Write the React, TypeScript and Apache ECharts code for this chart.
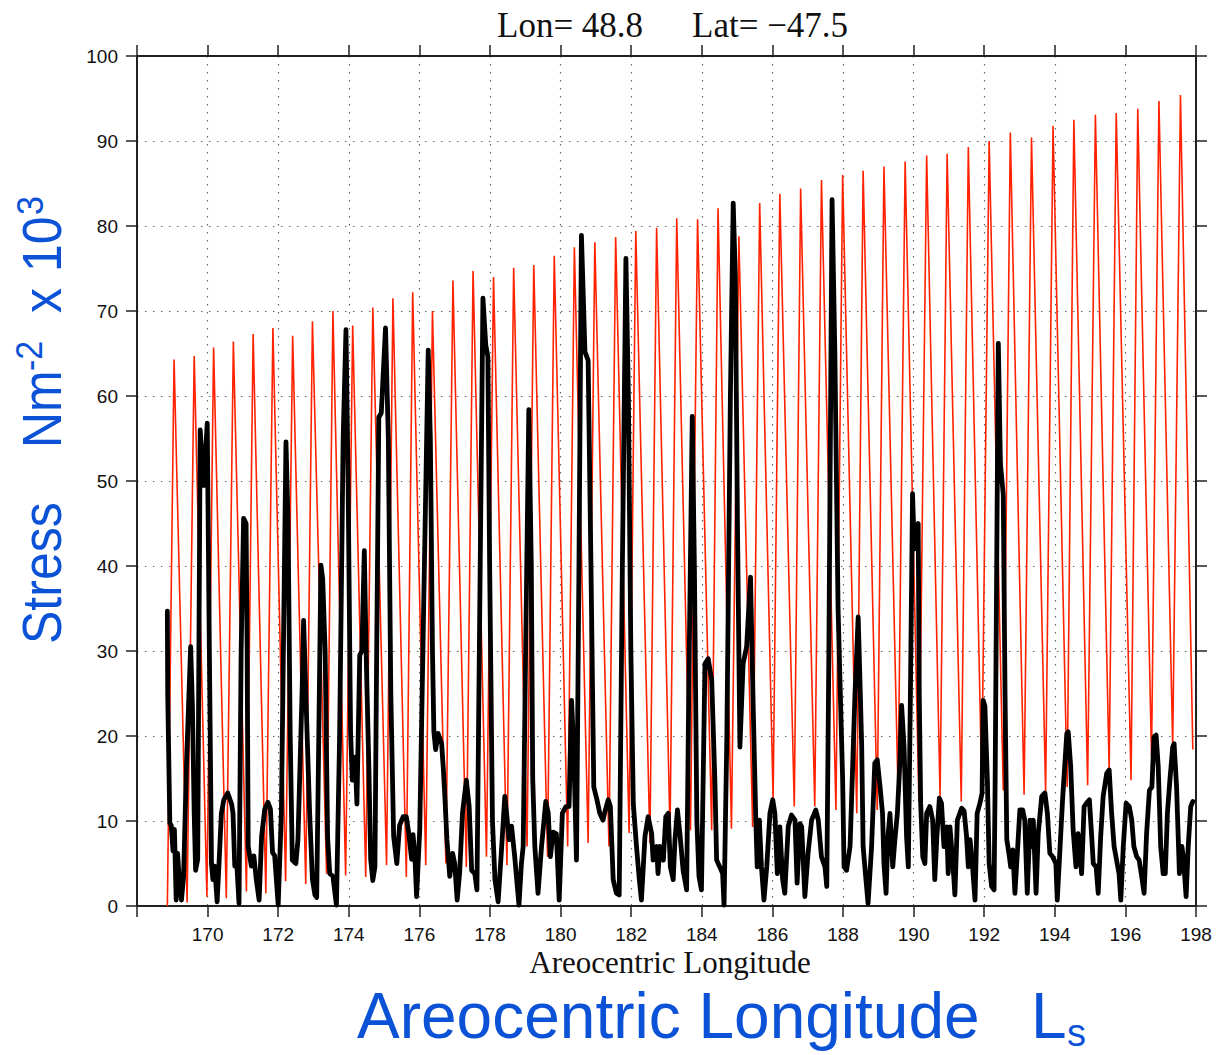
import React, { useEffect, useRef } from "react";
import * as echarts from "echarts";

// ---- axis ticks ----
const xMin = 168;
const xMax = 198;
const xStep = 2;
const yMin = 0;
const yMax = 100;
const yStep = 10;

// ---- red series (potential stress): start point, peaks and troughs ----
const redStart: [number, number] = [168.86, 0];
const redPeakLs = [
  169.05, 169.62, 170.17, 170.73, 171.29, 171.85, 172.41, 172.97, 173.55, 174.11,
  174.68, 175.25, 175.81, 176.37, 176.95, 177.52, 178.10, 178.67, 179.24, 179.82,
  180.39, 180.97, 181.56, 182.13, 182.72, 183.29, 183.88, 184.46, 185.05, 185.64,
  186.21, 186.80, 187.39, 187.99, 188.57, 189.16, 189.76, 190.37, 190.95, 191.55,
  192.14, 192.74, 193.34, 193.95, 194.54, 195.15, 195.74, 196.35, 196.95, 197.56,
];
const redPeakVal = [
  64.3, 64.7, 65.7, 66.4, 67.3, 68.0, 67.1, 68.8, 70.0, 68.3,
  70.4, 71.5, 72.2, 70.0, 73.6, 74.7, 74.0, 75.1, 75.4, 76.5,
  77.5, 78.1, 78.7, 79.4, 79.8, 80.9, 80.8, 82.1, 78.8, 82.7,
  83.8, 84.4, 85.4, 86.0, 86.5, 87.0, 87.6, 88.3, 88.5, 89.3,
  90.0, 91.0, 90.4, 91.8, 92.5, 93.1, 93.3, 93.8, 94.7, 95.4,
];
const redTroughLs = [
  169.42, 169.98, 170.53, 171.10, 171.65, 172.21, 172.78, 173.37, 173.91, 174.48,
  175.07, 175.63, 176.18, 176.75, 177.33, 177.90, 178.48, 179.05, 179.63, 180.20,
  180.78, 181.37, 181.94, 182.53, 183.10, 183.68, 184.28, 184.84, 185.44, 186.02,
  186.62, 187.20, 187.80, 188.39, 188.97, 189.56, 190.15, 190.75, 191.35, 191.93,
  192.54, 193.13, 193.74, 194.35, 194.93, 195.54, 196.16, 196.74, 197.34, 197.91,
];
const redTroughVal = [
  0.4, 1.1, 0.9, 1.7, 1.5, 2.9, 2.6, 3.8, 3.6, 3.4,
  4.8, 3.4, 4.8, 5.0, 4.6, 5.8, 4.8, 7.0, 5.8, 7.0,
  7.4, 7.0, 8.6, 7.4, 8.6, 8.9, 8.9, 9.1, 9.3, 12.7,
  11.7, 11.7, 11.3, 10.9, 11.3, 13.4, 12.3, 12.9, 12.3, 14.2,
  13.6, 13.1, 13.4, 14.0, 14.2, 16.0, 14.8, 17.6, 18.9, 18.4,
];

// ---- black series (actual stress), traced [Ls, value] ----
const blackTrace: [number, number][] = [
  [168.86,34.7],[168.87,25.0],[168.93,9.7],[168.97,9.5],[169.02,6.5],[169.06,9.0],[169.11,0.7],[169.15,6.2],[169.20,3.0],[169.26,0.7],
  [169.32,3.5],[169.40,16.4],[169.46,23.5],[169.52,30.5],[169.57,23.5],[169.62,10.9],[169.66,4.2],[169.72,5.5],[169.79,56.0],[169.89,49.5],
  [169.99,56.8],[170.05,30],[170.11,5.0],[170.15,3.1],[170.20,4.7],[170.27,0.5],[170.32,4.7],[170.39,10.9],[170.46,12.5],[170.57,13.3],
  [170.68,12.0],[170.72,10.9],[170.77,4.7],[170.83,4.7],[170.89,0.3],[170.95,30],[171.02,45.6],[171.09,45.0],[171.12,30],[171.15,7.0],
  [171.24,4.7],[171.31,5.9],[171.38,3.1],[171.46,0.7],[171.53,8.2],[171.62,11.4],[171.71,12.2],[171.78,11.4],[171.84,6.3],[171.90,5.9],
  [172.00,0.1],[172.09,11],[172.22,54.6],[172.28,45],[172.34,20],[172.40,5.4],[172.50,5.0],[172.56,7.8],[172.68,25.7],[172.72,33.6],
  [172.80,22.7],[172.89,11.0],[172.97,3.1],[173.04,1.3],[173.09,1.0],[173.15,20],[173.21,40.1],[173.26,38.5],[173.33,30],[173.40,8.0],
  [173.46,3.8],[173.55,3.5],[173.65,0.1],[173.74,20],[173.84,55],[173.92,67.8],[173.98,50],[174.05,20.5],[174.10,14.8],[174.18,17.5],
  [174.23,12],[174.31,29.5],[174.37,30],[174.44,41.8],[174.49,30],[174.57,16],[174.62,5.5],[174.68,3.0],[174.74,4.6],[174.79,30],
  [174.85,57.5],[174.92,58.0],[175.04,68.0],[175.12,55],[175.19,25],[175.27,8.2],[175.36,5.0],[175.44,9.5],[175.54,10.5],[175.63,10.5],
  [175.70,8.5],[175.78,5.5],[175.82,8.4],[175.87,6.0],[175.92,1.1],[176.01,9],[176.12,35],[176.25,65.4],[176.31,55],[176.37,30],
  [176.41,20.5],[176.46,18.4],[176.53,20.3],[176.63,19.1],[176.68,16.0],[176.72,13],[176.78,7.8],[176.86,3.5],[176.94,6.2],[177.00,5.0],
  [177.07,0.7],[177.14,3.9],[177.22,10.9],[177.33,14.8],[177.41,11.7],[177.48,4.2],[177.57,3.8],[177.63,1.9],[177.71,35],[177.80,71.5],
  [177.88,66],[177.94,64.6],[177.99,40],[178.07,10],[178.14,3.1],[178.23,0.5],[178.33,6.9],[178.42,12.9],[178.47,10.9],[178.54,7.8],
  [178.61,9.4],[178.70,5.8],[178.82,0.1],[178.89,5.0],[178.94,7.0],[179.01,30],[179.10,58.4],[179.17,40],[179.21,15],[179.27,7.0],
  [179.36,1.5],[179.46,7.0],[179.58,12.3],[179.65,10.9],[179.71,5.8],[179.79,8.7],[179.88,8.5],[179.96,0.7],[180.05,10.9],[180.15,11.7],
  [180.24,11.7],[180.31,24.2],[180.37,18.7],[180.45,5.4],[180.52,40],[180.59,78.9],[180.69,65.2],[180.78,64.2],[180.86,40],[180.94,14],
  [181.03,12.5],[181.11,10.9],[181.20,10.1],[181.25,11.0],[181.35,12.5],[181.41,11.7],[181.49,3.1],[181.58,1.5],[181.66,1.3],[181.75,40],
  [181.85,76.2],[181.92,60],[181.99,30],[182.06,12],[182.15,7.0],[182.23,3.1],[182.29,0.7],[182.39,8.2],[182.48,10.5],[182.58,8.5],
  [182.62,5.4],[182.72,7.0],[182.76,3.8],[182.81,7.0],[182.91,5.4],[182.98,10.5],[183.05,10.9],[183.11,4.6],[183.19,3.1],[183.24,7.8],
  [183.31,11.3],[183.38,8.5],[183.47,4.2],[183.57,1.9],[183.63,25],[183.73,57.6],[183.79,40],[183.86,10],[183.92,3.5],[183.99,1.9],
  [184.09,28.5],[184.18,29.1],[184.28,26.6],[184.37,14.8],[184.42,5.4],[184.51,4.6],[184.59,3.8],[184.63,0.1],[184.71,20],[184.81,60],
  [184.89,82.7],[184.95,74],[185.01,45],[185.08,18.7],[185.17,28.5],[185.27,30.5],[185.38,38.7],[185.46,22.7],[185.53,10.1],[185.57,4.6],
  [185.63,10.1],[185.69,4.6],[185.76,0.7],[185.84,4.6],[185.93,10.9],[186.01,12.5],[186.07,10.9],[186.14,3.8],[186.21,9.3],[186.29,3.1],
  [186.35,1.5],[186.45,9.4],[186.54,10.7],[186.64,10.1],[186.70,2.7],[186.78,9.7],[186.83,9.3],[186.92,1.1],[187.01,6.2],[187.11,10.1],
  [187.23,11.3],[187.30,10.1],[187.39,5.8],[187.49,4.6],[187.54,2.3],[187.60,30],[187.69,83.1],[187.77,65],[187.86,35],[187.99,14.8],
  [188.03,4.6],[188.10,4.2],[188.20,7.0],[188.34,25],[188.43,34.0],[188.48,26.6],[188.53,18.7],[188.57,7.0],[188.65,3.1],[188.71,0.3],
  [188.81,7.0],[188.90,16.8],[188.97,17.2],[189.05,14.0],[189.12,10.9],[189.16,5.0],[189.22,1.5],[189.27,8],[189.33,10.9],[189.41,4.6],
  [189.47,7.8],[189.54,10.9],[189.61,16.8],[189.66,23.6],[189.73,18.7],[189.80,8.2],[189.85,4.6],[189.91,25],[189.97,48.5],[190.02,42],
  [190.08,44],[190.13,45.0],[190.16,25],[190.20,12.1],[190.26,5.8],[190.32,5.0],[190.37,10.9],[190.46,11.7],[190.54,10.1],[190.60,3.1],
  [190.66,8.2],[190.73,12.7],[190.79,12.1],[190.86,7.0],[190.94,9.3],[190.98,3.8],[191.03,9.3],[191.12,4.6],[191.17,1.3],[191.24,10.1],
  [191.36,11.5],[191.43,11.2],[191.50,8.2],[191.55,4.6],[191.60,7.8],[191.67,4.6],[191.74,0.7],[191.80,10.9],[191.88,12.1],[191.94,13.3],
  [191.97,24.2],[192.02,23.5],[192.09,14.8],[192.14,5.0],[192.21,2.3],[192.28,1.9],[192.31,14.8],[192.40,66.2],[192.46,52],[192.54,48.4],
  [192.59,25],[192.64,7.8],[192.70,6.2],[192.75,4.6],[192.81,6.6],[192.87,1.5],[192.95,7.0],[193.01,11.3],[193.09,11.3],[193.15,10.1],
  [193.22,1.5],[193.30,10.1],[193.34,7.0],[193.39,10.1],[193.47,1.5],[193.53,8.5],[193.63,12.9],[193.72,13.3],[193.79,10.9],[193.86,6.2],
  [193.94,5.8],[194.03,5.0],[194.07,0.7],[194.15,7.0],[194.22,12.5],[194.34,20.3],[194.38,20.5],[194.45,16.4],[194.52,8.9],[194.60,4.6],
  [194.66,8.5],[194.76,3.8],[194.83,11.7],[194.90,12.1],[194.98,12.5],[195.04,8.5],[195.09,5.0],[195.17,4.6],[195.23,1.5],[195.30,8.2],
  [195.37,12.9],[195.47,15.6],[195.54,16.0],[195.61,10.9],[195.68,7.0],[195.75,5.4],[195.82,3.8],[195.87,0.7],[195.94,7.0],[196.02,12.1],
  [196.11,11.7],[196.18,10.1],[196.24,7.0],[196.32,5.8],[196.39,5.4],[196.46,3.5],[196.53,1.5],[196.60,8.5],[196.68,13.6],[196.75,14.0],
  [196.81,19.9],[196.87,20.1],[196.93,16.4],[197.00,7.0],[197.07,3.8],[197.13,3.8],[197.19,10.9],[197.26,14.8],[197.34,18.7],[197.38,19.1],
  [197.45,14.0],[197.53,3.8],[197.60,7.0],[197.64,5.8],[197.72,1.1],[197.78,7.0],[197.85,11.7],[197.91,12.3],
];

// ---- texts ----
const titleLon = "Lon= 48.8";
const titleLat = "Lat= \u221247.5";
const xAxisTitle = "Areocentric Longitude";
const blueXTitle = "Areocentric Longitude";
const blueYParts = ["Stress", "Nm", "-2", "x", "10", "3"];

const BLUE = "#0b52d6";

function buildRed(): [number, number][] {
  const out: [number, number][] = [redStart];
  for (let i = 0; i < redPeakLs.length; i++) {
    out.push([redPeakLs[i], redPeakVal[i]]);
    out.push([redTroughLs[i], redTroughVal[i]]);
  }
  return out;
}

export default function App() {
  const ref = useRef<HTMLDivElement>(null);
  useEffect(() => {
    if (!ref.current) return;
    const chart = echarts.init(ref.current, undefined, { renderer: "svg" });
    const axisLine = { show: true, onZero: false, lineStyle: { color: "#222", width: 2 } };
    const axisTick = { show: true, inside: false, length: 11, lineStyle: { color: "#222", width: 1.5 } };
    const split = { show: true, lineStyle: { color: "#666", width: 1.2, type: [1.5, 6.5] } };
    const sans = "'Liberation Sans', Arial, Helvetica, sans-serif";
    const serif = "'Liberation Serif', 'Times New Roman', serif";
    const txt = (x: number, y: number, text: string, font: string, fill: string, align = "left", extra: any = {}) => ({
      type: "text",
      x,
      y,
      silent: true,
      ...extra,
      style: { text, x: 0, y: 0, font, fill, align, verticalAlign: "middle", textAlign: align, textVerticalAlign: "middle" },
    });
    const rot = { rotation: Math.PI / 2, scaleY: 1.1 };
    const option: any = {
      animation: false,
      backgroundColor: "#ffffff",
      grid: { left: 137, top: 56, width: 1059, height: 850, containLabel: false },
      xAxis: [
        {
          type: "value", min: xMin, max: xMax, interval: xStep, position: "bottom",
          axisLine, axisTick,
          axisLabel: {
            show: true, margin: 19, fontSize: 19, color: "#111", fontFamily: sans,
            formatter: (v: number) => (v === xMin ? "" : String(v)),
          },
          splitLine: split,
        },
        {
          type: "value", min: xMin, max: xMax, interval: xStep, position: "top",
          axisLine, axisTick, axisLabel: { show: false }, splitLine: { show: false },
        },
      ],
      yAxis: [
        {
          type: "value", min: yMin, max: yMax, interval: yStep, position: "left",
          axisLine, axisTick,
          axisLabel: { show: true, margin: 19, fontSize: 19, color: "#111", fontFamily: sans },
          splitLine: split,
        },
        {
          type: "value", min: yMin, max: yMax, interval: yStep, position: "right",
          axisLine, axisTick, axisLabel: { show: false }, splitLine: { show: false },
        },
      ],
      series: [
        {
          type: "line", data: buildRed(), xAxisIndex: 0, yAxisIndex: 0,
          symbol: "none", showSymbol: false, silent: true, clip: true, z: 2,
          lineStyle: { color: "#ff2200", width: 1.6 },
        },
        {
          type: "line", data: blackTrace, xAxisIndex: 0, yAxisIndex: 0,
          symbol: "none", showSymbol: false, silent: true, clip: true, z: 3,
          lineStyle: { color: "#000", width: 4.8, join: "round", cap: "round" },
        },
      ],
      graphic: [
        txt(497, 25, titleLon, `35px ${serif}`, "#111"),
        txt(692, 25, titleLat, `35px ${serif}`, "#111"),
        txt(670, 962, xAxisTitle, `31px ${serif}`, "#111", "center"),
        txt(357, 1016, blueXTitle, `64px ${sans}`, BLUE),
        txt(1031, 1016, "L", `64px ${sans}`, BLUE),
        txt(1067, 1033, "s", `38px ${sans}`, BLUE),
        txt(41.5, 644, blueYParts[0], `50px ${sans}`, BLUE, "left", rot),
        txt(41.5, 448, blueYParts[1], `50px ${sans}`, BLUE, "left", rot),
        txt(29, 371, blueYParts[2], `34px ${sans}`, BLUE, "left", rot),
        txt(41.5, 313, blueYParts[3], `50px ${sans}`, BLUE, "left", rot),
        txt(41.5, 272, blueYParts[4], `50px ${sans}`, BLUE, "left", rot),
        txt(30, 215, blueYParts[5], `34px ${sans}`, BLUE, "left", rot),
      ],
    };
    chart.setOption(option);
    return () => chart.dispose();
  }, []);
  return (
    <div
      ref={ref}
      style={{ position: "absolute", left: 0, top: 0, width: 1217, height: 1055, background: "#fff" }}
    />
  );
}
